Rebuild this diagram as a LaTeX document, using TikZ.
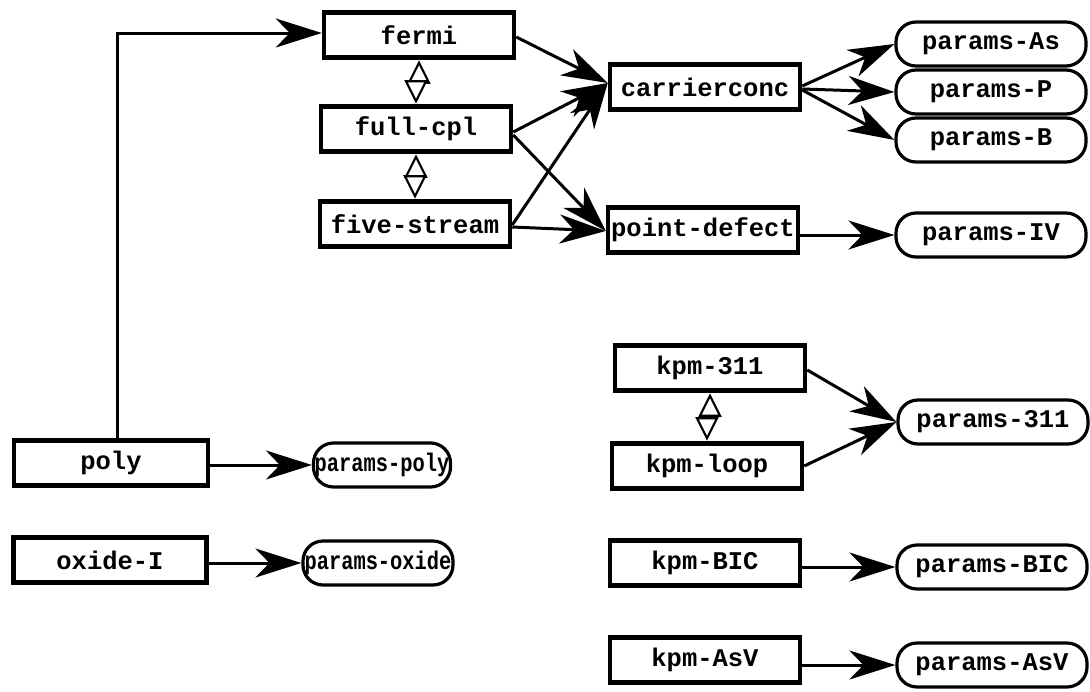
\documentclass[tikz,border=0pt]{standalone}
\usepackage{fontspec}
\setmonofont{Liberation Mono}
\usetikzlibrary{arrows.meta}
\tikzset{
  lbl/.style={font=\ttfamily\bfseries\fontsize{25.5}{29}\selectfont},
  modbox/.style={lbl, draw, line width=4.5pt, inner sep=0pt,
    minimum width=190pt, minimum height=45pt},
  parbox/.style={lbl, draw, line width=3.2pt, rounded corners=20pt, inner sep=0pt,
    minimum width=190pt, minimum height=44pt},
  flow/.style={line width=3pt, -{Stealth[length=46pt,width=29pt,inset=14pt]}},
  couple/.style={line width=2.2pt, line join=miter, fill=white}
}
\begin{document}
\begin{tikzpicture}[x=1pt,y=-1pt]
\useasboundingbox (0,0) rectangle (1090,691);

% process modules
\node[modbox] (fermi)  at (419,35)  {fermi};
\node[modbox] (fullcpl) at (416,129) {full-cpl};
\node[modbox] (five)   at (415,224) {five-stream};
\node[modbox] (carrier) at (705,87) {carrierconc};
\node[modbox] (pdef)   at (703,230) {point-defect};
\node[modbox, minimum width=194pt] (poly)  at (111,463) {poly};
\node[modbox, minimum width=193pt] (oxide) at (110,560) {oxide-I};
\node[modbox] (k311)   at (710,368) {kpm-311};
\node[modbox] (kloop)  at (707,466) {kpm-loop};
\node[modbox] (kbic)   at (705,563) {kpm-BIC};
\node[modbox] (kasv)   at (705,660) {kpm-AsV};

% parameter sets
\node[parbox] (pAs)  at (991,44)  {params-As};
\node[parbox] (pP)   at (991,92)  {params-P};
\node[parbox] (pB)   at (991,140) {params-B};
\node[parbox] (pIV)  at (991,235) {params-IV};
\node[parbox] (p311) at (993,422) {params-311};
\node[parbox] (pBIC) at (992,567) {params-BIC};
\node[parbox] (pAsV) at (992,665) {params-AsV};
\node[parbox, minimum width=137pt] (ppoly) at (382,465) {\scalebox{0.8}[1]{params-poly}};
\node[parbox, minimum width=150pt] (poxide) at (378,563) {\scalebox{0.8}[1]{params-oxide}};

% coupling between alternative modules: open triangles pointing to each box
\foreach \a/\b in {fermi/fullcpl, fullcpl/five, k311/kloop} {
  \draw[couple] ([yshift=-3pt]\a.south) -- ++(10,20) -- ++(-20,0) -- cycle;
  \draw[couple] ([yshift=3pt]\b.north) -- ++(10,-20) -- ++(-20,0) -- cycle;
}

% data flow
\coordinate (bend) at (117,33);
\draw[flow] (poly.north -| bend) -- (bend) -- (bend -| fermi.west);
\coordinate (cin) at ([yshift=4pt]carrier.west);
\draw[flow] ([yshift=-2pt]fermi.east) -- (cin);
\draw[flow] ([yshift=-3pt]fullcpl.east) -- (cin);
\draw[flow] ([yshift=-1pt]five.east) -- (cin);
\draw[flow] ([yshift=-6pt]fullcpl.east) -- ([yshift=-1pt]pdef.west);
\draw[flow] ([yshift=-3pt]five.east) -- ([yshift=-1pt]pdef.west);
\draw[flow] ([yshift=1pt]carrier.east) -- (pAs.west);
\draw[flow] ([yshift=-2pt]carrier.east) -- (pP.west);
\draw[flow] ([yshift=-3pt]carrier.east) -- (pB.west);
\draw[flow] (pdef.east |- pIV.west) -- (pIV.west);
\draw[flow] ([yshift=-2pt]k311.east) -- (p311.west);
\draw[flow] (kloop.east) -- (p311.west);
\draw[flow] (kbic.east |- pBIC.west) -- (pBIC.west);
\draw[flow] (kasv.east |- pAsV.west) -- (pAsV.west);
\draw[flow] (poly.east |- ppoly.west) -- (ppoly.west);
\draw[flow] (oxide.east |- poxide.west) -- (poxide.west);
\end{tikzpicture}
\end{document}
